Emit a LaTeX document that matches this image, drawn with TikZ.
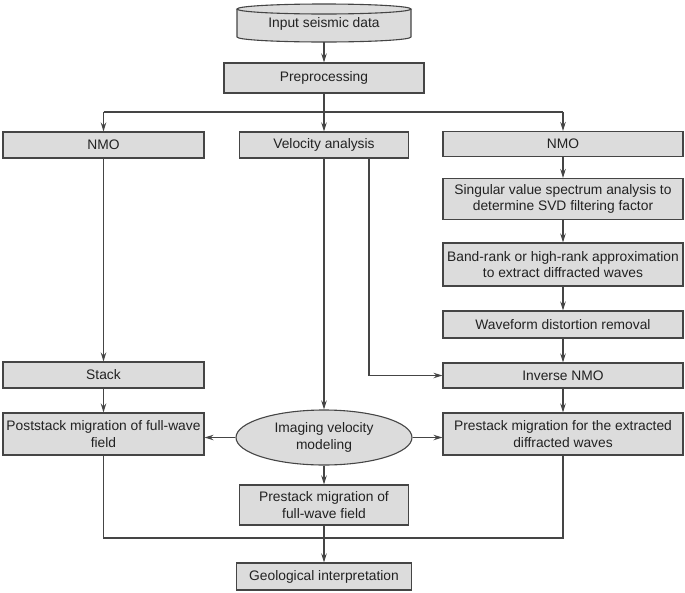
\documentclass[tikz,border=0pt]{standalone}
\usepackage{fontspec}
\setmainfont{Liberation Sans}
\usetikzlibrary{arrows.meta,shapes.geometric}
\definecolor{boxfill}{HTML}{DCDCDC}
\definecolor{linec}{HTML}{454545}
\definecolor{txtc}{HTML}{222222}
\newcommand{\fs}{\fontsize{13.8}{16.8}\selectfont}
\tikzset{
  box/.style={draw=linec, fill=boxfill, line width=1.1pt, inner sep=0pt, font=\fs, text=txtc, align=center},
  arr/.style={draw=linec, line width=1.1pt, -{Stealth[length=9pt,width=5.5pt,inset=3pt]}},
  ln/.style={draw=linec, line width=1.1pt}
}
\begin{document}
\begin{tikzpicture}[x=1pt,y=-1pt]
\useasboundingbox (0,0) rectangle (685,592);
% cylinder
\fill[boxfill] (237,9) -- (237,37) arc[start angle=180, end angle=0, x radius=87, y radius=5] -- (411,9) -- cycle;
\draw[ln] (237,9) -- (237,37) arc[start angle=180, end angle=0, x radius=87, y radius=5] -- (411,9);
\draw[ln, fill=boxfill] (324,9) ellipse[x radius=87, y radius=5];
\node[inner sep=0pt, minimum width=174, minimum height=38, font=\fs, text=txtc] (in) at (324,24) {Input seismic data};
\coordinate (inb) at (324,42);
% nodes
\node[box, minimum width=200, minimum height=30] (pre) at (324,78) {Preprocessing};
\node[box, minimum width=201, minimum height=26] (nmoL) at (103.5,145) {NMO};
\node[box, minimum width=169, minimum height=26] (vel) at (324,145) {Velocity analysis};
\node[box, minimum width=240, minimum height=25] (nmoR) at (563,144) {NMO};
\node[box, minimum width=240, minimum height=41] (svd) at (563,199) {Singular value spectrum analysis to\\determine SVD filtering factor};
\node[box, minimum width=240, minimum height=43] (band) at (563,264.5) {Band-rank or high-rank approximation\\to extract diffracted waves};
\node[box, minimum width=240, minimum height=27] (wave) at (563,324.5) {Waveform distortion removal};
\node[box, minimum width=240, minimum height=25] (inv) at (563,375.5) {Inverse NMO};
\node[box, minimum width=201, minimum height=26] (stack) at (103.5,375) {Stack};
\node[box, minimum width=201, minimum height=42] (post) at (103.5,434) {Poststack migration of full-wave\\field};
\node[box, ellipse, minimum width=176, minimum height=55] (ell) at (324,437.5) {Imaging velocity\\modeling};
\node[box, minimum width=240, minimum height=42] (prex) at (563,434) {Prestack migration for the extracted\\diffracted waves};
\node[box, minimum width=169, minimum height=40] (prefw) at (324,505) {Prestack migration of\\full-wave field};
\node[box, minimum width=175, minimum height=27] (geo) at (324,576.5) {Geological interpretation};
% coordinates
\coordinate (bL) at (103.5,112);
\coordinate (bR) at (563,112);
\coordinate (vk) at (369,300);
\coordinate (lp) at (0,538);
% connectors
\draw[arr] (inb) -- (pre.north);
\draw[arr] (pre.south) -- (vel.north);
\draw[ln] (bL) -- (bR);
\draw[arr] (bL) -- (nmoL.north);
\draw[arr] (bR) -- (nmoR.north);
\draw[arr] (nmoL.south) -- (stack.north);
\draw[arr] (stack.south) -- (post.north);
\draw[arr] (nmoR.south) -- (svd.north);
\draw[arr] (svd.south) -- (band.north);
\draw[arr] (band.south) -- (wave.north);
\draw[arr] (wave.south) -- (inv.north);
\draw[arr] (inv.south) -- (prex.north);
\draw[arr] (vel.south) -- (ell.north);
\draw[arr] (vel.south -| vk) |- (inv.west);
\draw[arr] (ell.west) -- (ell.west -| post.east);
\draw[arr] (ell.east) -- (ell.east -| prex.west);
\draw[arr] (ell.south) -- (prefw.north);
\draw[ln] (post.south) -- (post.south |- lp) -| (prex.south);
\draw[arr] (prefw.south) -- (geo.north);
\end{tikzpicture}
\end{document}
